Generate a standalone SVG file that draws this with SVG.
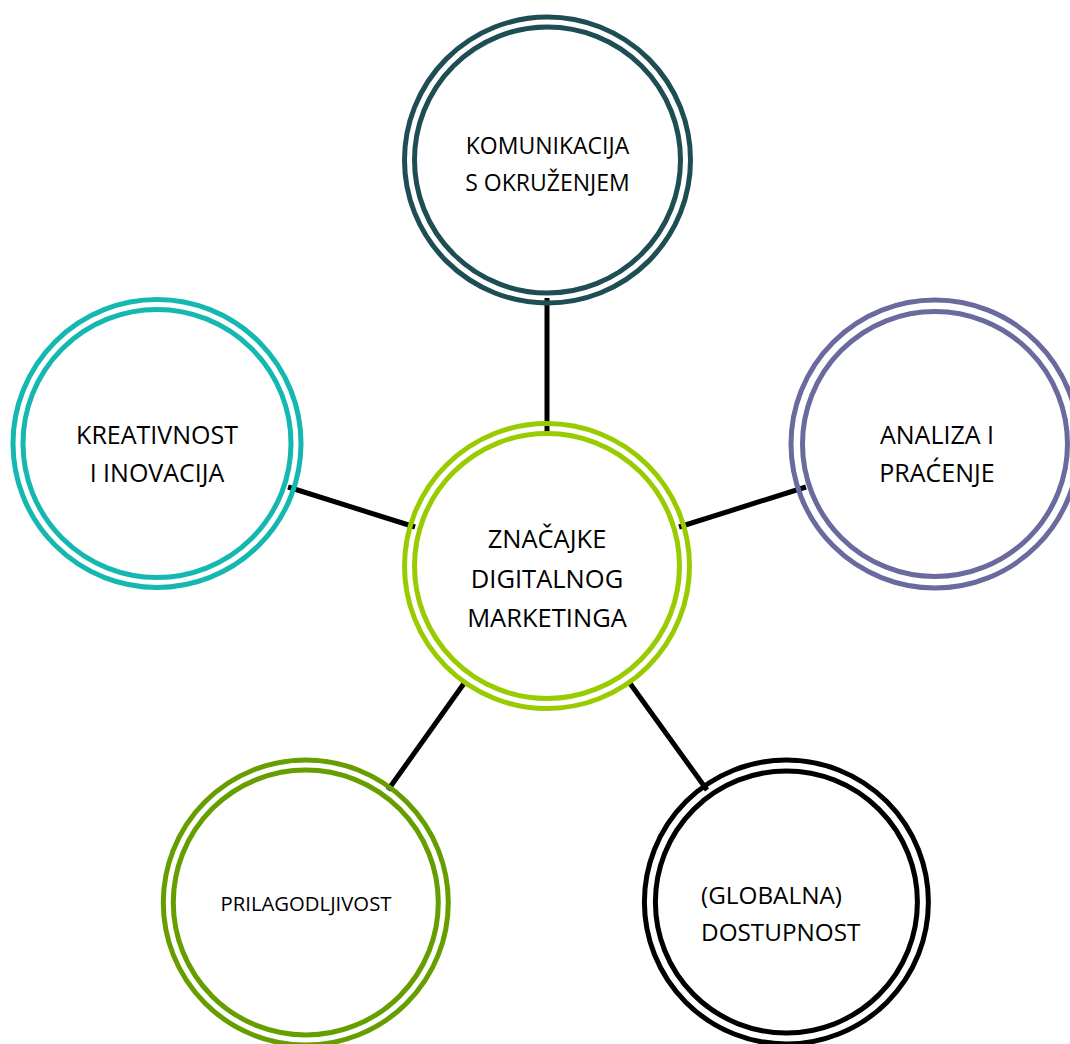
<svg xmlns="http://www.w3.org/2000/svg" width="1070" height="1044" viewBox="0 0 1070 1044">
<style>
.ring{fill:none;stroke-width:5}
.t{font-family:"Open Sans","Noto Sans","Liberation Sans",sans-serif;fill:#000;text-anchor:middle}
.conn{stroke:#000;stroke-width:5;fill:none}
</style>
<rect width="1070" height="1044" fill="#ffffff"/>
<g id="connectors">
<line class="conn" x1="547" y1="298" x2="547" y2="433"/>
<line class="conn" x1="288" y1="487" x2="415" y2="527"/>
<line class="conn" x1="679" y1="527" x2="806" y2="487"/>
<line class="conn" x1="465" y1="682" x2="388" y2="790"/>
<line class="conn" x1="629" y1="682" x2="707" y2="790"/>
</g>
<g id="node-top">
<circle class="ring" cx="547.5" cy="160" r="143" stroke="#1e4d54"/>
<circle class="ring" cx="547.5" cy="160" r="133" stroke="#1e4d54"/>
<text class="t" font-size="23" x="547.5" y="154">KOMUNIKACIJA</text>
<text class="t" font-size="23" x="547.5" y="190.5">S OKRUŽENJEM</text>
</g>
<g id="node-left">
<circle class="ring" cx="157" cy="443.5" r="144" stroke="#14b8b0"/>
<circle class="ring" cx="157" cy="443.5" r="134" stroke="#14b8b0"/>
<text class="t" font-size="25" x="157" y="444">KREATIVNOST</text>
<text class="t" font-size="25" x="157" y="482">I INOVACIJA</text>
</g>
<g id="node-right">
<circle class="ring" cx="935" cy="444" r="144" stroke="#6a6a9f"/>
<circle class="ring" cx="935" cy="444" r="132.5" stroke="#6a6a9f"/>
<text class="t" font-size="25" x="937" y="444">ANALIZA I</text>
<text class="t" font-size="25" x="937" y="482">PRAĆENJE</text>
</g>
<g id="node-center">
<circle class="ring" cx="547" cy="566" r="142.5" stroke="#99cc00"/>
<circle class="ring" cx="547" cy="566" r="132.5" stroke="#99cc00"/>
<text class="t" font-size="25.5" x="547" y="548">ZNAČAJKE</text>
<text class="t" font-size="25.5" x="547" y="587.5">DIGITALNOG</text>
<text class="t" font-size="25.5" x="547" y="626.5">MARKETINGA</text>
</g>
<g id="node-bottom-left">
<circle class="ring" cx="305.8" cy="902.5" r="142.5" stroke="#669e00"/>
<circle class="ring" cx="305.8" cy="902.5" r="132.5" stroke="#669e00"/>
<text class="t" font-size="20.3" x="306" y="911">PRILAGODLJIVOST</text>
</g>
<g id="node-bottom-right">
<circle class="ring" cx="786.4" cy="902" r="142" stroke="#000000"/>
<circle class="ring" cx="786.4" cy="902" r="131" stroke="#000000"/>
<text class="t" font-size="24.3" x="701" y="903.5" style="text-anchor:start">(GLOBALNA)</text>
<text class="t" font-size="24.3" x="701" y="941" style="text-anchor:start">DOSTUPNOST</text>
</g>
</svg>
